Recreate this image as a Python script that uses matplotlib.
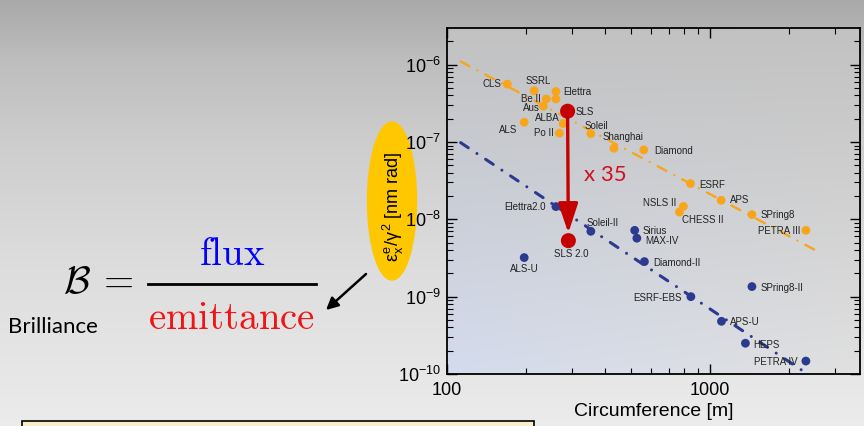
"""
Emitancia vs circunferencia de anillos de almacenamiento (3ª y 4ª generación).
"""
import numpy as np
import matplotlib
matplotlib.use("Agg")
import matplotlib.pyplot as plt
from matplotlib.patches import Ellipse, Rectangle
from matplotlib.ticker import FuncFormatter, NullFormatter

# ── Datos ────────────────────────────────────────────────────────────────
orange_names = ["CLS", "SSRL", "Elettra", "Be II", "", "Aus", "ALBA", "ALS", "Po II",
                "Soleil", "Shanghai", "Diamond", "ESRF", "NSLS II", "CHESS II",
                "APS", "SPring8", "PETRA III"]
orange_circ = [170, 215, 260, 239, 260, 233, 277, 197, 268,
               353, 432, 561, 844, 793, 766, 1104, 1445, 2317]
orange_emit = [5.6e-7, 4.6e-7, 4.5e-7, 3.6e-7, 3.6e-7, 2.9e-7, 1.73e-7, 1.8e-7, 1.3e-7,
               1.28e-7, 8.3e-8, 7.9e-8, 2.9e-8, 1.47e-8, 1.24e-8, 1.76e-8, 1.15e-8, 7.2e-9]

blue_names = ["Elettra2.0", "Soleil-II", "Sirius", "MAX-IV", "ALS-U", "Diamond-II",
              "SPring8-II", "ESRF-EBS", "APS-U", "HEPS", "PETRA IV"]
blue_circ = [260, 353, 518, 528, 197, 564, 1445, 847, 1107, 1365, 2317]
blue_emit = [1.46e-8, 7.0e-9, 7.2e-9, 5.7e-9, 3.2e-9, 2.84e-9, 1.35e-9, 1.0e-9,
             4.8e-10, 2.5e-10, 1.47e-10]

sls_names = ["SLS", "SLS 2.0"]
sls_circ = [288, 290]
sls_emit = [2.5e-7, 5.3e-9]

orange_fit_circ = [113, 2550]
orange_fit_emit = [1.1e-6, 3.9e-9]
blue_fit_circ = [113, 2350]
blue_fit_emit = [9.8e-8, 1.0e-10]

# desplazamiento de etiquetas (px) y alineación
orange_lbl = [(-6, 0, "right"), (4, 10, "center"), (7, -1, "left"), (-6, 0, "right"),
              (0, 0, "left"), (-4, -2, "right"), (-3, 6, "right"), (-7, -8, "right"),
              (-6, 0, "right"), (-6, 8, "left"), (-11, 11, "left"), (10, -1, "left"),
              (9, -1, "left"), (-7, 3, "right"), (3, -8, "left"), (9, 0, "left"),
              (9, 0, "left"), (-6, -1, "right")]
blue_lbl = [(-10, 0, "right"), (-4, 8, "left"), (8, -1, "left"), (8, -3, "left"),
            (0, -11, "center"), (9, -1, "left"), (9, -1, "left"), (-9, -1, "right"),
            (9, -1, "left"), (8, -2, "left"), (-8, -1, "right")]
sls_lbl = [(8, -1, "left"), (3, -13, "center")]

ORANGE = "#f9a51c"
BLUE = "#2c3a8f"
RED = "#c40000"

plt.rcParams.update({
    "font.family": "Liberation Sans",
    "mathtext.fontset": "custom",
    "mathtext.rm": "Liberation Sans",
    "mathtext.it": "Liberation Sans",
    "mathtext.bf": "Liberation Sans:bold",
})

W, H = 864, 426
fig = plt.figure(figsize=(W / 100, H / 100), dpi=100)

# ── Fondo (coordenadas en píxeles) ───────────────────────────────────────
bg = fig.add_axes([0, 0, 1, 1], zorder=-5)
bg.set_xlim(0, W)
bg.set_ylim(H, 0)
bg.axis("off")
rows = np.arange(H)
g = np.interp(rows, [0, 60, 140, 260, 426], [0.66, 0.74, 0.80, 0.86, 0.92])
grad = np.stack([g, g + 0.004, g], axis=-1)[:, None, :]
bg.imshow(grad, extent=(0, W, H, 0), aspect="auto", zorder=0)

AX_L, AX_R, AX_T, AX_B = 446.7, 860, 28.3, 374
t = np.linspace(0, 1, 120)[:, None]
s = np.linspace(0, 1, 160)[None, :]
grey = 0.76 + 0.12 * t + 0 * s
tint = t * (1 - s)
panel = np.clip(np.stack([grey - 0.05 * tint, grey - 0.02 * tint, grey + 0.05 * tint], -1), 0, 1)
bg.imshow(panel, extent=(AX_L, AX_R, AX_B, AX_T), aspect="auto", zorder=1)

# ── Gráfico principal ────────────────────────────────────────────────────
ax = fig.add_axes([AX_L / W, 1 - AX_B / H, (AX_R - AX_L) / W, (AX_B - AX_T) / H])
ax.set_facecolor("none")
ax.set_xscale("log")
ax.set_yscale("log")
ax.set_xlim(100, 3720)
ax.set_ylim(1e-10, 2.95e-6)

ax.plot(orange_fit_circ, orange_fit_emit, color=ORANGE, lw=1.7,
        linestyle=(0, (4.2, 3.8, 0.01, 3.8)), dash_capstyle="round", zorder=2)
ax.plot(blue_fit_circ, blue_fit_emit, color=BLUE, lw=2.2,
        linestyle=(0, (3.0, 3.4, 0.01, 3.4)), dash_capstyle="round", zorder=2)

ax.scatter(orange_circ, orange_emit, s=40, color=ORANGE, edgecolors="none", zorder=3)
ax.scatter(blue_circ, blue_emit, s=40, color=BLUE, edgecolors="none", zorder=3)

ax.annotate("", xy=(sls_circ[1], sls_emit[1]), xytext=(sls_circ[0], sls_emit[0]),
            arrowprops=dict(arrowstyle="-|>,head_length=0.9,head_width=0.3",
                            color=RED, lw=2.4, shrinkA=0, shrinkB=5.5,
                            mutation_scale=20), zorder=4)
ax.scatter(sls_circ, sls_emit, s=117, color=RED, edgecolors="none", zorder=5)

for names, xs, ys, lbl in [(orange_names, orange_circ, orange_emit, orange_lbl),
                           (blue_names, blue_circ, blue_emit, blue_lbl),
                           (sls_names, sls_circ, sls_emit, sls_lbl)]:
    for name, x, y, (dx, dy, ha) in zip(names, xs, ys, lbl):
        if name:
            ax.annotate(name, (x, y), xytext=(dx, dy), textcoords="offset pixels",
                        ha=ha, va="center", fontsize=7, color="#222222", zorder=6)

ax.xaxis.set_major_formatter(FuncFormatter(lambda v, _: f"{v:g}"))
ax.xaxis.set_minor_formatter(NullFormatter())
ax.tick_params(which="both", direction="in", top=True, right=True, labelsize=13)
ax.tick_params(which="major", length=7, width=1)
ax.tick_params(which="minor", length=4, width=0.8)
ax.tick_params(axis="x", pad=6)
ax.tick_params(axis="y", pad=4)
for sp in ax.spines.values():
    sp.set_linewidth(1.3)
ax.set_xlabel("Circumference [m]", fontsize=14, labelpad=3)

# ── Anotaciones de la diapositiva ────────────────────────────────────────
bg.add_patch(Ellipse((392, 201), 49, 158, color="#ffc700", zorder=2))
bg.text(393, 207, r"$\varepsilon^{e}_{x}/\gamma^{2}$ [nm rad]", rotation=90,
        ha="center", va="center", fontsize=13, zorder=3)

bg.text(605, 175, "x 35", color="#d0101c", fontsize=16, family="Lato",
        ha="center", va="center", zorder=3)

bg.text(77, 283, r"$\mathcal{B}$", ha="center", va="center", fontsize=28,
        math_fontfamily="cm", zorder=3)
bg.text(115, 282, r"$=$", ha="center", va="center", fontsize=28,
        math_fontfamily="cm", zorder=3)
bg.plot([148, 316], [284, 284], color="black", lw=2, zorder=3)
bg.text(232, 265, r"$\mathrm{flux}$", color="#0000ff", fontsize=28,
        math_fontfamily="cm", ha="center", va="baseline", zorder=3)
bg.text(232, 329, r"$\mathrm{emittance}$", color="#f01414", fontsize=28,
        math_fontfamily="cm", ha="center", va="baseline", zorder=3)
bg.text(8, 333, "Brilliance", fontsize=16, family="Lato", va="baseline", zorder=3)
bg.annotate("", xy=(326, 310), xytext=(366, 274),
            arrowprops=dict(arrowstyle="-|>", color="black", lw=1.8,
                            mutation_scale=18, shrinkA=0, shrinkB=0), zorder=3)

bg.add_patch(Rectangle((22, 420.7), 512, 30, facecolor="#f8efc8",
                       edgecolor="black", lw=1.2, zorder=3))

fig.savefig("out.png", dpi=100)
